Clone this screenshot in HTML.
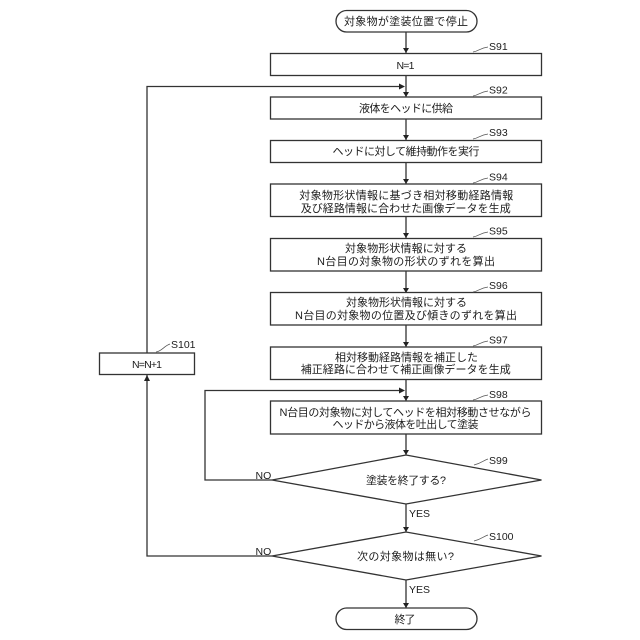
<!DOCTYPE html>
<html><head><meta charset="utf-8"><style>
html,body{margin:0;padding:0;background:#fff}
svg{display:block}
text{font-family:"Liberation Sans","Noto Sans CJK JP",sans-serif;font-size:11px;fill:#1c1c1c;text-anchor:middle}
.l{text-anchor:start;font-size:10.5px}
.b{fill:#fff;stroke:#333;stroke-width:1.3}
.c{fill:none;stroke:#333;stroke-width:1.3}
.t{fill:none;stroke:#555;stroke-width:.8}
.a{fill:#222}
</style></head><body>
<svg width="640" height="640" viewBox="0 0 640 640" xmlns="http://www.w3.org/2000/svg">
<path class="c" d="M406 32V53M406 76V97M406 119V140M406 162V184M406 217V238M406 271V293M406 325V347M406 380V401M406 434V455M406 504V532M406 580V608"/>
<path class="c" d="M147 353V86.500H403M147 375V556H272M272 480H205V390.500H403"/>
<path class="a" d="M403 48h6l-3 5zM403 92h6l-3 5zM403 135h6l-3 5zM403 179h6l-3 5zM403 233h6l-3 5zM403 288h6l-3 5zM403 342h6l-3 5zM403 396h6l-3 5zM403 450h6l-3 5zM403 527h6l-3 5zM403 603h6l-3 5z"/>
<path class="a" d="M405 86.500l-6-3v6zM405 390.500l-6-3v6zM147 375l-3 6h6z"/>
<rect class="b" x="336" y="10.500" width="141" height="21.500" rx="10.700"/>
<rect class="b" x="270.500" y="53.500" width="271" height="22"/>
<rect class="b" x="270.500" y="97" width="271" height="22"/>
<rect class="b" x="270.500" y="140.500" width="271" height="22"/>
<rect class="b" x="270.500" y="184" width="271" height="32.500"/>
<rect class="b" x="270.500" y="238.500" width="271" height="32.500"/>
<rect class="b" x="270.500" y="292.500" width="271" height="32.500"/>
<rect class="b" x="270.500" y="347" width="271" height="32.500"/>
<rect class="b" x="270.500" y="401" width="271" height="33"/>
<rect class="b" x="99.500" y="353" width="95" height="21.500"/>
<path class="b" d="M272 480L406 455L541.500 480L406 504Z"/>
<path class="b" d="M272 556L406 532L541.500 556L406 580Z"/>
<rect class="b" x="336" y="608" width="141" height="21.500" rx="10.700"/>
<path class="t" d="M473 52C479 51 480 48 488 47M473 96C479 95 480 92 488 91M473 139C479 138 480 135 488 134M473 183C479 182 480 179 488 178M473 237C479 236 480 233 488 232M473 292C479 291 480 288 488 287M473 346C479 345 480 342 488 341M473 400C479 399 480 396 488 395M474 465C482 463 484 460 488 459M474 541C482 539 484 536 488 535M156 352C162 351 164 346 170 344"/>
<text x="406" y="25" textLength="124">対象物が塗装位置で停止</text>
<text x="405.500" y="69" textLength="18" style="font-size:10.500px">N=1</text>
<text x="406" y="112" textLength="94">液体をヘッドに供給</text>
<text x="406" y="155" textLength="147">ヘッドに対して維持動作を実行</text>
<text x="406.300" y="199" textLength="214">対象物形状情報に基づき相対移動経路情報</text>
<text x="405.700" y="212" textLength="210">及び経路情報に合わせた画像データを生成</text>
<text x="406" y="252" textLength="122">対象物形状情報に対する</text>
<text x="406" y="265" textLength="178">N台目の対象物の形状のずれを算出</text>
<text x="406.500" y="306" textLength="121">対象物形状情報に対する</text>
<text x="406" y="319" textLength="222">N台目の対象物の位置及び傾きのずれを算出</text>
<text x="406.500" y="361" textLength="143">相対移動経路情報を補正した</text>
<text x="405.700" y="373" textLength="210">補正経路に合わせて補正画像データを生成</text>
<text x="405.500" y="416" textLength="252">N台目の対象物に対してヘッドを相対移動させながら</text>
<text x="405.500" y="428" textLength="146">ヘッドから液体を吐出して塗装</text>
<text x="406" y="484" textLength="80">塗装を終了する?</text>
<text x="405.500" y="560" textLength="97">次の対象物は無い?</text>
<text x="405" y="623" textLength="21">終了</text>
<text x="147" y="368" textLength="30" style="font-size:10.500px">N=N+1</text>
<text class="l" x="489" y="50">S91</text>
<text class="l" x="489" y="93.500">S92</text>
<text class="l" x="489" y="136">S93</text>
<text class="l" x="489" y="180.500">S94</text>
<text class="l" x="489" y="234.500">S95</text>
<text class="l" x="489" y="289">S96</text>
<text class="l" x="489" y="343.500">S97</text>
<text class="l" x="489" y="398">S98</text>
<text class="l" x="489" y="464">S99</text>
<text class="l" x="489" y="540">S100</text>
<text class="l" x="171" y="348">S101</text>
<text class="l" x="255.500" y="479">NO</text>
<text class="l" x="255.500" y="555">NO</text>
<text class="l" x="409" y="517">YES</text>
<text class="l" x="409" y="593">YES</text>
</svg>
</body></html>
